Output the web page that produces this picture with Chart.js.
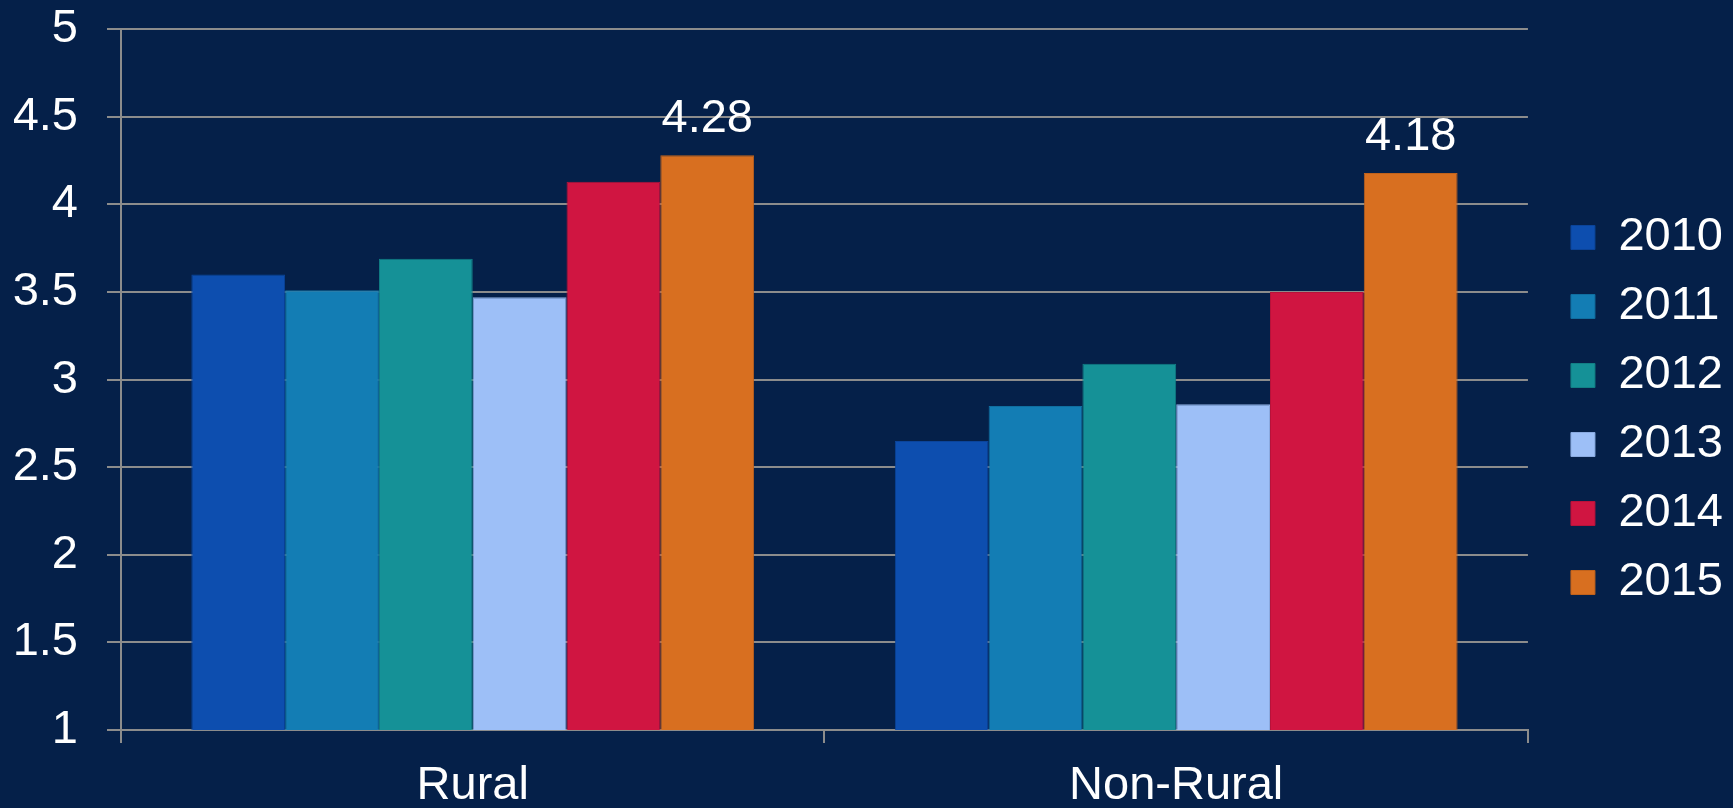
<!DOCTYPE html>
<html>
<head>
<meta charset="utf-8">
<script src="https://cdn.jsdelivr.net/npm/chart.js@4.4.1/dist/chart.umd.min.js"></script>
<style>
  html, body { margin: 0; padding: 0; background: #052049; }
  canvas { display: block; }
</style>
</head>
<body>
<canvas id="chart" width="1733" height="808"></canvas>
<script>
// Categories and yearly series
const categories = ['Rural', 'Non-Rural'];
const years = ['2010', '2011', '2012', '2013', '2014', '2015'];
const values2010 = [3.60, 2.65];
const values2011 = [3.51, 2.85];
const values2012 = [3.69, 3.09];
const values2013 = [3.47, 2.86];
const values2014 = [4.13, 3.50];
const values2015 = [4.28, 4.18];
const yTicks = [1, 1.5, 2, 2.5, 3, 3.5, 4, 4.5, 5];
const labelledYear = '2015';

const seriesValues = [values2010, values2011, values2012, values2013, values2014, values2015];
const fills = ['#0D4EAF', '#137DB4', '#159197', '#9DBFF7', '#D01541', '#D86F20'];
const edges = ['#0B449A', '#106E9F', '#127F85', '#8AAAE0', '#B8123A', '#C0621C'];

const FONT = '"Liberation Sans", Arial, Helvetica, sans-serif';
const FONT_SIZE = 47;
const GRID = '#8c8c8c';

// Writes the value above each bar of the labelled year
const valueLabels = {
  id: 'valueLabels',
  afterDatasetsDraw(chart) {
    const ctx = chart.ctx;
    chart.data.datasets.forEach((ds, i) => {
      if (ds.label !== labelledYear) return;
      chart.getDatasetMeta(i).data.forEach((bar, j) => {
        ctx.save();
        ctx.font = FONT_SIZE + 'px ' + FONT;
        ctx.fillStyle = '#ffffff';
        ctx.textAlign = 'center';
        ctx.textBaseline = 'alphabetic';
        ctx.fillText(ds.data[j].toFixed(2), bar.x, bar.y - 23);
        ctx.restore();
      });
    });
  }
};

new Chart(document.getElementById('chart'), {
  type: 'bar',
  data: {
    labels: categories,
    datasets: years.map((y, i) => ({
      label: y,
      data: seriesValues[i],
      backgroundColor: fills[i],
      borderColor: edges[i],
      borderWidth: 1,
      categoryPercentage: 0.8,
      barPercentage: 1.0
    }))
  },
  options: {
    responsive: false,
    devicePixelRatio: 1,
    animation: false,
    layout: { padding: { left: 14, top: 12, right: 0, bottom: 0 } },
    plugins: {
      tooltip: { enabled: false },
      legend: {
        position: 'right',
        align: 'center',
        labels: {
          color: '#ffffff',
          font: { family: FONT, size: FONT_SIZE },
          boxWidth: 24,
          boxHeight: 24,
          padding: 22
        }
      }
    },
    scales: {
      x: {
        offset: true,
        afterFit: (scale) => { scale.height = 78; },
        grid: {
          display: true,
          offset: true,
          drawOnChartArea: false,
          drawTicks: true,
          tickLength: 13,
          color: GRID,
          lineWidth: 2
        },
        border: { display: true, color: GRID, width: 2 },
        ticks: {
          color: '#ffffff',
          font: { family: FONT, size: FONT_SIZE, lineHeight: 1 },
          padding: 20
        }
      },
      y: {
        min: 1,
        max: 5,
        afterBuildTicks: (scale) => { scale.ticks = yTicks.map(v => ({ value: v })); },
        afterFit: (scale) => { scale.width = 107; },
        grid: {
          color: GRID,
          lineWidth: 2,
          drawTicks: true,
          tickLength: 14
        },
        border: { display: true, color: GRID, width: 2 },
        ticks: {
          color: '#ffffff',
          font: { family: FONT, size: FONT_SIZE, lineHeight: 0.01 },
          padding: 29,
          callback: (v) => String(v)
        }
      },
      gap: {
        type: 'linear',
        position: 'right',
        display: true,
        grid: { display: false, drawTicks: false },
        border: { display: false },
        ticks: { display: false },
        afterFit: (scale) => { scale.width = 21; }
      }
    }
  },
  plugins: [valueLabels]
});
</script>
</body>
</html>
